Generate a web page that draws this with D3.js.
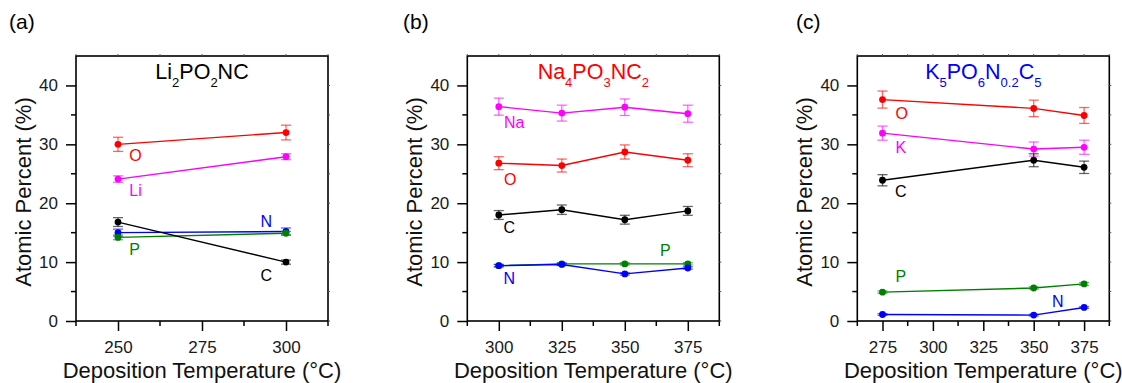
<!DOCTYPE html>
<html>
<head>
<meta charset="utf-8">
<script src="https://cdn.jsdelivr.net/npm/d3@7"></script>
<style>
  html, body { margin: 0; padding: 0; background: #fff; }
  svg { display: block; font-family: "Liberation Sans", Arial, sans-serif; }
</style>
</head>
<body>
<svg id="chart" width="1122" height="383"></svg>
<script>
// ---- data -------------------------------------------------------------
const panelLetters = ["(a)", "(b)", "(c)"];
const formulas = ["Li2PO2NC", "Na4PO3NC2", "K5PO6N0.2C5"];
const formulaColors = ["#000000", "#ff0000", "#0000ff"];

// Deposition temperatures (°C)
const tempsA = [250, 300];
const tempsB = [300, 325, 350, 375];
const tempsC = [275, 350, 375];

// Elements per panel (draw order)
const elementsA = ["O", "Li", "N", "P", "C"];
const elementsB = ["Na", "O", "C", "P", "N"];
const elementsC = ["O", "K", "C", "P", "N"];

// Atomic percent values (%), one row per element
const valuesA = [[30.0, 32.0], [24.1, 27.9], [15.0, 15.2], [14.2, 14.9], [16.8, 10.0]];
const valuesB = [
  [36.4, 35.3, 36.3, 35.2],
  [26.8, 26.4, 28.7, 27.3],
  [18.0, 18.9, 17.2, 18.7],
  [9.4, 9.7, 9.7, 9.7],
  [9.4, 9.6, 8.0, 9.0]
];
const valuesC = [
  [37.6, 36.1, 34.9],
  [31.9, 29.2, 29.5],
  [23.9, 27.3, 26.1],
  [4.9, 5.6, 6.3],
  [1.1, 1.0, 2.3]
];

// Error bar half-widths (%)
const errorsA = [[1.2, 1.25], [0.55, 0.5], [0.6, 0.6], [0.4, 0.3], [0.75, 0.35]];
const errorsB = [
  [1.45, 1.35, 1.4, 1.45],
  [1.1, 1.1, 1.2, 1.1],
  [0.75, 0.8, 0.75, 0.75],
  [0.2, 0.2, 0.2, 0.2],
  [0.2, 0.2, 0.2, 0.2]
];
const errorsC = [
  [1.45, 1.4, 1.35],
  [1.2, 1.2, 1.2],
  [0.95, 1.1, 1.05],
  [0.2, 0.2, 0.25],
  [0.15, 0.15, 0.15]
];

// Element label anchors in data units [temperature, percent]
const labelAtA = [[255.2, 28.2], [255.2, 22.2], [294.1, 17.0], [254.9, 12.15], [294.1, 7.8]];
const labelAtB = [[306.1, 33.8], [304.5, 24.1], [304.2, 16.0], [366.1, 12.0], [304.2, 7.2]];
const labelAtC = [[284.5, 35.3], [284.1, 29.5], [284.1, 22.1], [284.1, 7.6], [361.9, 3.3]];

// Axis settings
const xDomains = [[237.5, 312.5], [287.5, 387.5], [262.5, 387.5]];
const xMajorTicks = [[250, 275, 300], [300, 325, 350, 375], [275, 300, 325, 350, 375]];
const yDomain = [0, 45];
const yMajorTicks = [0, 10, 20, 30, 40];
const yMinorTicks = [5, 15, 25, 35];

const elementColors = {
  O: "#ff0000", Li: "#ff00ff", Na: "#ff00ff", K: "#ff00ff",
  C: "#000000", N: "#0000ff", P: "#008000"
};

// ---- layout -----------------------------------------------------------
const plotLefts = [76, 467.3, 857.3];
const letterX = [9, 403, 796];
const plotWidth = 252;
const plotTop = 56;
const plotBottom = 321;

const panels = [
  { temps: tempsA, elements: elementsA, values: valuesA, errors: errorsA, labels: labelAtA },
  { temps: tempsB, elements: elementsB, values: valuesB, errors: errorsB, labels: labelAtB },
  { temps: tempsC, elements: elementsC, values: valuesC, errors: errorsC, labels: labelAtC }
];

const svg = d3.select("#chart");

panels.forEach((p, i) => {
  const left = plotLefts[i];
  const right = left + plotWidth;
  const x = d3.scaleLinear().domain(xDomains[i]).range([left, right]);
  const y = d3.scaleLinear().domain(yDomain).range([plotBottom, plotTop]);
  const g = svg.append("g");

  // panel letter
  g.append("text")
    .attr("x", letterX[i]).attr("y", 29)
    .attr("font-size", 21).attr("fill", "#000")
    .text(panelLetters[i]);

  // frame
  g.append("rect")
    .attr("x", left).attr("y", plotTop)
    .attr("width", plotWidth).attr("height", plotBottom - plotTop)
    .attr("fill", "none").attr("stroke", "#000").attr("stroke-width", 1.6);

  // bottom axis (major)
  const xAxis = d3.axisBottom(x).tickValues(xMajorTicks[i])
    .tickSizeInner(10).tickSizeOuter(0).tickPadding(10).tickFormat(d3.format("d"));
  const gx = g.append("g").attr("transform", `translate(0,${plotBottom})`).call(xAxis);
  gx.select(".domain").remove();
  gx.selectAll(".tick line").attr("stroke", "#000").attr("stroke-width", 1.5);
  gx.selectAll(".tick text").attr("font-size", 17).attr("fill", "#1a1a1a")
    .attr("font-family", "Liberation Sans, Arial, sans-serif");

  // bottom minor ticks
  const xMinor = d3.range(xDomains[i][0], xDomains[i][1] + 0.01, 25);
  g.selectAll(null).data(xMinor).enter().append("line")
    .attr("x1", d => x(d)).attr("x2", d => x(d))
    .attr("y1", plotBottom).attr("y2", plotBottom + 5)
    .attr("stroke", "#000").attr("stroke-width", 1.5);

  // left axis (major)
  const yAxis = d3.axisLeft(y).tickValues(yMajorTicks)
    .tickSizeInner(10).tickSizeOuter(0).tickPadding(8).tickFormat(d3.format("d"));
  const gy = g.append("g").attr("transform", `translate(${left},0)`).call(yAxis);
  gy.select(".domain").remove();
  gy.selectAll(".tick line").attr("stroke", "#000").attr("stroke-width", 1.5);
  gy.selectAll(".tick text").attr("font-size", 17).attr("fill", "#1a1a1a")
    .attr("font-family", "Liberation Sans, Arial, sans-serif");

  // left minor ticks
  g.selectAll(null).data(yMinorTicks).enter().append("line")
    .attr("x1", left - 5).attr("x2", left)
    .attr("y1", d => y(d)).attr("y2", d => y(d))
    .attr("stroke", "#000").attr("stroke-width", 1.5);

  // mirrored tiny ticks on right and top
  g.selectAll(null).data(yMajorTicks.concat(yMinorTicks)).enter().append("line")
    .attr("x1", right).attr("x2", right + 2)
    .attr("y1", d => y(d)).attr("y2", d => y(d))
    .attr("stroke", "#555").attr("stroke-width", 1);
  g.selectAll(null).data(xMajorTicks[i].concat(xMinor)).enter().append("line")
    .attr("x1", d => x(d)).attr("x2", d => x(d))
    .attr("y1", plotTop).attr("y2", plotTop - 2)
    .attr("stroke", "#555").attr("stroke-width", 1);

  // axis titles
  g.append("text")
    .attr("transform", `translate(${left - 45.5},${(plotTop + plotBottom) / 2 + 3.5}) rotate(-90)`)
    .attr("text-anchor", "middle").attr("font-size", 22).attr("fill", "#111")
    .text("Atomic Percent (%)");
  g.append("text")
    .attr("x", (left + right) / 2).attr("y", 378)
    .attr("text-anchor", "middle").attr("font-size", 22).attr("fill", "#111")
    .text("Deposition Temperature (°C)");

  // formula title with subscripts
  const parts = formulas[i].split(/(\d+(?:\.\d+)?)/).filter(s => s.length);
  const title = g.append("text")
    .attr("x", (left + right) / 2).attr("y", 78.5)
    .attr("text-anchor", "middle").attr("font-size", 21.5)
    .attr("fill", formulaColors[i]);
  let shifted = false;
  parts.forEach(s => {
    const isSub = /^\d/.test(s);
    const ts = title.append("tspan").text(s);
    if (isSub && !shifted) { ts.attr("dy", 8).attr("font-size", 13); shifted = true; }
    else if (isSub) { ts.attr("font-size", 13); }
    else if (shifted) { ts.attr("dy", -8); shifted = false; }
  });

  // series
  const line = d3.line().x(d => x(d[0])).y(d => y(d[1]));
  p.elements.forEach((el, k) => {
    const color = elementColors[el];
    const pts = p.temps.map((t, j) => [t, p.values[k][j], p.errors[k][j]]);
    const sg = g.append("g");

    sg.append("path").datum(pts)
      .attr("d", line).attr("fill", "none")
      .attr("stroke", color).attr("stroke-width", 1.4);

    const eb = sg.selectAll(null).data(pts).enter().append("g")
      .attr("stroke", color).attr("stroke-width", 1.3).attr("stroke-opacity", 0.6);
    eb.append("line")
      .attr("x1", d => x(d[0])).attr("x2", d => x(d[0]))
      .attr("y1", d => y(d[1] - d[2])).attr("y2", d => y(d[1] + d[2]));
    eb.append("line")
      .attr("x1", d => x(d[0]) - 5).attr("x2", d => x(d[0]) + 5)
      .attr("y1", d => y(d[1] + d[2])).attr("y2", d => y(d[1] + d[2]));
    eb.append("line")
      .attr("x1", d => x(d[0]) - 5).attr("x2", d => x(d[0]) + 5)
      .attr("y1", d => y(d[1] - d[2])).attr("y2", d => y(d[1] - d[2]));

    sg.selectAll(null).data(pts).enter().append("circle")
      .attr("cx", d => x(d[0])).attr("cy", d => y(d[1]))
      .attr("r", 3.4).attr("fill", color);

    const la = p.labels[k];
    sg.append("text")
      .attr("x", x(la[0])).attr("y", y(la[1]))
      .attr("dy", "0.36em").attr("text-anchor", "middle")
      .attr("font-size", 16).attr("fill", color)
      .text(el);
  });
});
</script>
</body>
</html>
